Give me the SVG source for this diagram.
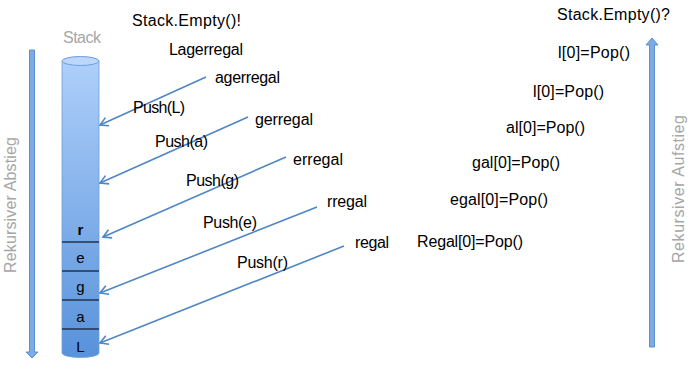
<svg xmlns="http://www.w3.org/2000/svg" width="691" height="371" viewBox="0 0 691 371">
<style>
.t{font-family:"Liberation Sans",Arial,sans-serif;font-size:16px;fill:#000}
.g{font-family:"Liberation Sans",Arial,sans-serif;font-size:16px;fill:#a6a6a6}
.s{font-family:"Liberation Sans",Arial,sans-serif;font-size:15px;fill:#000;text-anchor:middle}
.c{fill:none;stroke:#4f86c6;stroke-width:1.6}
.big{fill:#7eabe4;stroke:#5a8fd2;stroke-width:1}
.div{stroke:#1f3550;stroke-width:1.5}
</style>
<defs>
<linearGradient id="cyl" x1="0" y1="0" x2="0" y2="1">
<stop offset="0" stop-color="#aecffa"/>
<stop offset="1" stop-color="#5892da"/>
</linearGradient>
<marker id="ah" markerUnits="userSpaceOnUse" viewBox="-10 -6 12 12" markerWidth="12" markerHeight="12" refX="0" refY="0" orient="auto">
<path d="M-8,-4.5 L0,0 L-8,4.5" fill="none" stroke="#4f86c6" stroke-width="1.6"/>
</marker>
</defs>

<g id="abstieg">
<path class="big" d="M29.5,50 L34.5,50 L34.5,352 L38,352 L32,358 L26,352 L29.5,352 Z"/>
<text class="g" textLength="136" transform="translate(16,205) rotate(-90)" text-anchor="middle">Rekursiver Abstieg</text>
</g>

<g id="aufstieg">
<path class="big" d="M649.5,347 L654.5,347 L654.5,45 L658,45 L652,38 L646,45 L649.5,45 Z"/>
<text class="g" textLength="148" transform="translate(684,189) rotate(-90)" text-anchor="middle">Rekursiver Aufstieg</text>
</g>

<g id="stack">
<text class="g" x="63" y="43" textLength="38">Stack</text>
<path d="M62,61 L62,353 A18.5,4.5 0 0 0 99,353 L99,61 Z" fill="url(#cyl)" stroke="#6d9fdc" stroke-width="0.8"/>
<ellipse cx="80.5" cy="61" rx="18.5" ry="4.5" fill="#bcd7fa" stroke="#6d9fdc" stroke-width="1"/>
<line class="div" x1="62" y1="242" x2="99" y2="242"/>
<line class="div" x1="62" y1="271" x2="99" y2="271"/>
<line class="div" x1="62" y1="300" x2="99" y2="300"/>
<line class="div" x1="62" y1="329" x2="99" y2="329"/>
<text class="s" x="80.5" y="235" font-weight="bold">r</text>
<text class="s" x="80.5" y="263">e</text>
<text class="s" x="80.5" y="292">g</text>
<text class="s" x="80.5" y="322">a</text>
<text class="s" x="80.5" y="352">L</text>
</g>

<g id="connectors">
<line class="c" x1="206" y1="77" x2="100" y2="125" marker-end="url(#ah)"/>
<line class="c" x1="248" y1="117" x2="100" y2="183" marker-end="url(#ah)"/>
<line class="c" x1="286" y1="157" x2="103" y2="237" marker-end="url(#ah)"/>
<line class="c" x1="317" y1="207" x2="100" y2="293" marker-end="url(#ah)"/>
<line class="c" x1="344" y1="246" x2="100" y2="343" marker-end="url(#ah)"/>
</g>

<g id="abstieg-labels">
<text class="t" x="132" y="26" textLength="109">Stack.Empty()!</text>
<text class="t" x="169" y="55" textLength="74">Lagerregal</text>
<text class="t" x="215" y="83" textLength="65">agerregal</text>
<text class="t" x="133" y="113" textLength="52">Push(L)</text>
<text class="t" x="255" y="125" textLength="58">gerregal</text>
<text class="t" x="155" y="147" textLength="53">Push(a)</text>
<text class="t" x="293" y="165" textLength="50">erregal</text>
<text class="t" x="186" y="186" textLength="53">Push(g)</text>
<text class="t" x="327" y="207" textLength="40">rregal</text>
<text class="t" x="203" y="228" textLength="54">Push(e)</text>
<text class="t" x="355" y="248" textLength="34">regal</text>
<text class="t" x="237" y="268" textLength="51">Push(r)</text>
</g>

<g id="aufstieg-labels">
<text class="t" x="557" y="20" textLength="113">Stack.Empty()?</text>
<text class="t" x="558" y="58" textLength="72">l[0]=Pop()</text>
<text class="t" x="533" y="97" textLength="71">l[0]=Pop()</text>
<text class="t" x="506" y="133" textLength="79">al[0]=Pop()</text>
<text class="t" x="472" y="168" textLength="88">gal[0]=Pop()</text>
<text class="t" x="450" y="205" textLength="98">egal[0]=Pop()</text>
<text class="t" x="417" y="247" textLength="106">Regal[0]=Pop()</text>
</g>
</svg>
